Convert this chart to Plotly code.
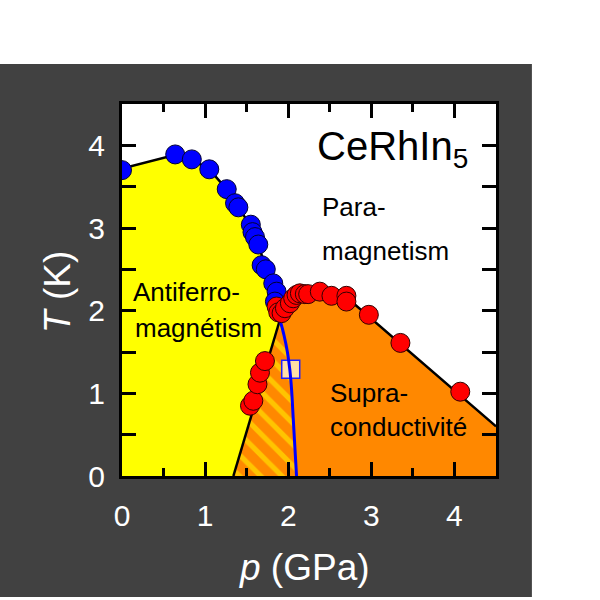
import plotly.graph_objects as go

# ---------------- data ----------------
# AFM transition temperatures (blue circles)
afm_p = [0.0, 0.64, 0.84, 1.05, 1.26, 1.36, 1.40, 1.55, 1.57, 1.60, 1.64, 1.68, 1.73, 1.82, 1.86, 1.84]
afm_T = [3.70, 3.89, 3.83, 3.71, 3.47, 3.30, 3.25, 3.04, 2.95, 2.89, 2.80, 2.55, 2.50, 2.33, 2.23, 2.11]

# superconducting transition temperatures (red circles)
sc_p = [1.54, 1.58, 1.63, 1.66, 1.72,
        1.86, 1.88, 1.92, 1.96, 2.02, 2.06, 2.10, 2.14, 2.20, 2.24, 2.38, 2.52, 2.70, 2.70, 2.97, 3.35, 4.07]
sc_T = [0.85, 0.91, 1.11, 1.25, 1.39,
        2.05, 1.98, 1.97, 2.03, 2.09, 2.15, 2.19, 2.21, 2.20, 2.20, 2.23, 2.18, 2.18, 2.11, 1.95, 1.61, 1.02]

# special point (open square)
sq_p = [2.03]
sq_T = [1.29]

# phase boundaries
afm_line_p = [0.0, 0.62, 0.84, 1.05, 1.26, 1.40, 1.55, 1.64, 1.72, 1.80, 1.86, 1.90]
afm_line_T = [3.72, 3.88, 3.83, 3.71, 3.47, 3.25, 3.02, 2.80, 2.55, 2.38, 2.15, 1.89]

left_line_p = [1.34, 1.90]
left_line_T = [0.0, 1.89]

sc_line_p = [1.90, 1.95, 2.05, 2.20, 2.40, 2.60, 2.75, 4.50]
sc_line_T = [1.89, 2.00, 2.12, 2.20, 2.23, 2.20, 2.12, 0.60]

blue_line_p = [1.90, 1.95, 1.99, 2.02, 2.04, 2.06, 2.08, 2.10]
blue_line_T = [1.89, 1.70, 1.50, 1.28, 1.05, 0.70, 0.35, 0.0]

x_ticks = [0, 1, 2, 3, 4]
y_ticks = [0, 1, 2, 3, 4]

YELLOW = "#FFFF00"
ORANGE = "#FF8800"
DARK = "#414141"
FONT = "Liberation Sans, Arial, sans-serif"

fig = go.Figure()

# yellow AFM region
fig.add_trace(go.Scatter(
    x=[0.0] + afm_line_p + [left_line_p[0], 0.0],
    y=[0.0] + afm_line_T + [left_line_T[0], 0.0],
    fill="toself", fillcolor=YELLOW, mode="none", hoverinfo="skip"))

# orange SC region
fig.add_trace(go.Scatter(
    x=[left_line_p[0]] + sc_line_p + [4.5, left_line_p[0]],
    y=[left_line_T[0]] + sc_line_T + [0.0, 0.0],
    fill="toself", fillcolor=ORANGE, mode="none", hoverinfo="skip"))

# hatched coexistence region
fig.add_trace(go.Scatter(
    x=left_line_p + blue_line_p[1:] + [left_line_p[0]],
    y=left_line_T + blue_line_T[1:] + [left_line_T[0]],
    fill="toself", fillcolor=ORANGE, mode="none", hoverinfo="skip",
    fillpattern=dict(shape="\\", bgcolor=ORANGE, fgcolor=YELLOW, size=15, solidity=0.35)))

# black boundaries
for px, py in [(afm_line_p, afm_line_T), (left_line_p, left_line_T), (sc_line_p, sc_line_T)]:
    fig.add_trace(go.Scatter(x=px, y=py, mode="lines",
                             line=dict(color="black", width=2.5), hoverinfo="skip"))

# square point
fig.add_trace(go.Scatter(x=sq_p, y=sq_T, mode="markers",
                         marker=dict(symbol="square", size=18, color="#FFDFA6",
                                     line=dict(color="#2020FF", width=1.5))))

# blue line
fig.add_trace(go.Scatter(x=blue_line_p, y=blue_line_T, mode="lines",
                         line=dict(color="#0000FF", width=3, shape="spline"), hoverinfo="skip"))

# AFM points
fig.add_trace(go.Scatter(x=afm_p, y=afm_T, mode="markers", cliponaxis=True,
                         marker=dict(size=19, color="#0000FF", line=dict(color="#000033", width=1))))
# SC points
fig.add_trace(go.Scatter(x=sc_p, y=sc_T, mode="markers",
                         marker=dict(size=19, color="#FF0000", line=dict(color="#330000", width=1))))

# text annotations inside the plot
texts = [
    ("CeRhIn<sub>5</sub>", 2.32, 3.95, 40),
    ("Para-", 2.38, 3.26, 26),
    ("magnetism", 2.38, 2.72, 26),
    ("Antiferro-", 0.105, 2.23, 26),
    ("magnétism", 0.13, 1.79, 26),
    ("Supra-", 2.475, 1.01, 26),
    ("conductivité", 2.475, 0.59, 26),
]
for t, x, y, s in texts:
    fig.add_annotation(text=t, x=x, y=y, xref="x", yref="y", showarrow=False,
                       xanchor="left", yanchor="middle",
                       font=dict(family=FONT, size=s, color="black"))

# axis titles
fig.add_annotation(text="<i>p</i> (GPa)", x=0.487, y=-0.247, xref="paper", yref="paper",
                   showarrow=False, xanchor="center", yanchor="middle",
                   font=dict(family=FONT, size=37, color="white"))
fig.add_annotation(text="<i>T</i> (K)", x=-0.171, y=0.495, xref="paper", yref="paper",
                   showarrow=False, xanchor="center", yanchor="middle", textangle=-90,
                   font=dict(family=FONT, size=37, color="white"))

# background shapes: dark frame, then white plot area
fig.add_shape(type="rect", xref="paper", yref="paper", x0=-0.33, x1=1.096, y0=-0.325, y1=1.1075,
              fillcolor=DARK, line=dict(width=0), layer="below")
fig.add_shape(type="rect", xref="paper", yref="paper", x0=0, x1=1, y0=0, y1=1,
              fillcolor="white", line=dict(width=0), layer="below")

fig.update_xaxes(range=[0, 4.5], tickvals=x_ticks, ticks="inside", ticklen=14, tickwidth=3,
                 tickcolor="black", showline=True, linecolor="black", linewidth=3, mirror="ticks",
                 showgrid=False, zeroline=False, ticklabelstandoff=11,
                 tickfont=dict(family=FONT, size=30, color="white"),
                 minor=dict(tickvals=[0.5, 1.5, 2.5, 3.5], ticks="inside", ticklen=8, tickwidth=3,
                            tickcolor="black", showgrid=False))
fig.update_yaxes(range=[0, 4.5], tickvals=y_ticks, ticks="inside", ticklen=14, tickwidth=3,
                 tickcolor="black", showline=True, linecolor="black", linewidth=3, mirror="ticks",
                 showgrid=False, zeroline=False, ticklabelstandoff=8,
                 tickfont=dict(family=FONT, size=30, color="white"),
                 minor=dict(tickvals=[0.5, 1.5, 2.5, 3.5], ticks="inside", ticklen=14, tickwidth=3,
                            tickcolor="black", showgrid=False))

fig.update_layout(width=600, height=600, showlegend=False,
                  margin=dict(l=122, r=104, t=104, b=124),
                  paper_bgcolor="white", plot_bgcolor="rgba(0,0,0,0)")

fig.write_html("out.html", config={"displayModeBar": False},
               post_script="document.body.style.margin='0';")
